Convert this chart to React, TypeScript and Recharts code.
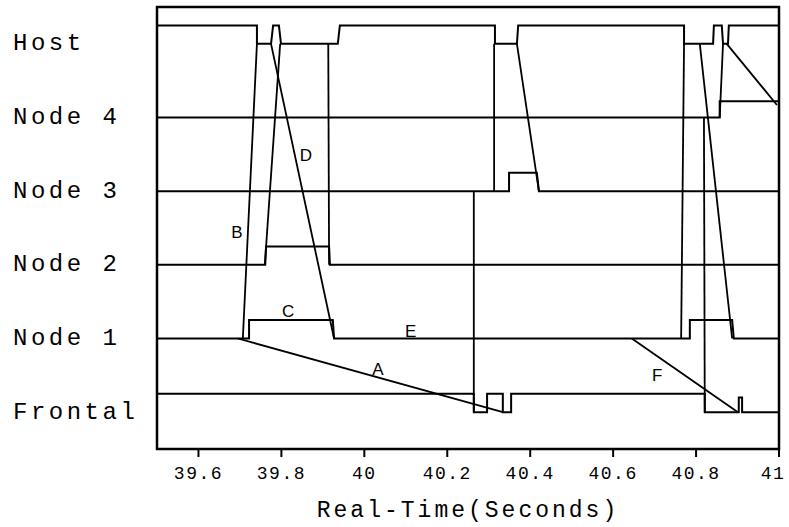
import { LineChart, Line, XAxis, YAxis, ReferenceArea, ReferenceDot } from 'recharts';

// row order bottom->top
const rowNames = ['Frontal', 'Node 1', 'Node 2', 'Node 3', 'Node 4', 'Host'];
const timeTicks = [39.6, 39.8, 40, 40.2, 40.4, 40.6, 40.8, 41];

// step traces: [time, level]; level = row index, +0.25 when active
const hostTrace = [
  [39.5, 5.25], [39.741, 5.25], [39.741, 5], [39.775, 5], [39.78, 5.25], [39.794, 5.25],
  [39.799, 5], [39.936, 5], [39.941, 5.25], [40.315, 5.25], [40.315, 5], [40.368, 5],
  [40.371, 5.25], [40.771, 5.25], [40.771, 5], [40.841, 5], [40.843, 5.25], [40.862, 5.25],
  [40.865, 5], [40.877, 5], [40.879, 5.25], [41, 5.25],
];
const node4Trace = [[39.5, 4], [40.857, 4], [40.857, 4.22], [41, 4.22]];
const node3Trace = [[39.5, 3], [40.349, 3], [40.349, 3.25], [40.416, 3.25], [40.421, 3], [41, 3]];
const node2Trace = [[39.5, 2], [39.761, 2], [39.763, 2.25], [39.915, 2.25], [39.917, 2], [41, 2]];
const node1Trace = [
  [39.5, 1], [39.722, 1], [39.722, 1.25], [39.924, 1.25], [39.927, 1], [40.785, 1],
  [40.785, 1.25], [40.887, 1.25], [40.891, 1], [41, 1],
];
const frontalTrace = [
  [39.5, 0.25], [40.264, 0.25], [40.264, 0], [40.296, 0], [40.296, 0.25], [40.334, 0.25],
  [40.334, 0], [40.354, 0], [40.354, 0.25], [40.821, 0.25], [40.821, 0], [40.903, 0],
  [40.903, 0.2], [40.911, 0.2], [40.911, 0], [41, 0],
];

// messages between rows: [t0, v0, t1, v1]
const messages = [
  [39.695, 1, 40.334, 0],     // A
  [39.707, 1, 39.741, 5],     // B
  [39.76, 2, 39.797, 5],
  [39.775, 5, 39.927, 1],     // D
  [39.915, 2, 39.913, 5],
  [40.313, 5, 40.313, 3],
  [40.264, 3, 40.264, 0],
  [40.368, 5, 40.421, 3],
  [40.645, 1, 40.901, 0],     // F
  [40.771, 5, 40.764, 1],
  [40.819, 4, 40.821, 0],
  [40.809, 5, 40.887, 1],
  [40.865, 5, 40.857, 4],
  [40.874, 5, 40.995, 4.17],
];

const letterNames = ['A', 'B', 'C', 'D', 'E', 'F'];
const letterTimes = [40.033, 39.693, 39.816, 39.859, 40.112, 40.706];
const letterLevels = [0.58, 2.44, 1.37, 3.49, 1.1, 0.51];

const toPts = (tr: number[][]) => tr.map(([t, v]) => ({ t, v }));

const traces = [hostTrace, node4Trace, node3Trace, node2Trace, node1Trace, frontalTrace];

const mono = '"Liberation Mono", "DejaVu Sans Mono", monospace';

const RowTick = (props: any) => {
  const { y, payload } = props;
  return (
    <text x={13} y={y} textAnchor="start" dominantBaseline="central" fontFamily={mono}
      fontSize={24} letterSpacing={3.5} fill="#000">
      {rowNames[payload.value]}
    </text>
  );
};

const TimeTick = (props: any) => {
  const { x, y, payload } = props;
  // last label sits against the page edge
  const shift = payload.value === 41 ? -6 : 0;
  return (
    <text x={x + shift} y={y} dy="0.9em" textAnchor="middle" fontFamily={mono}
      fontSize={18} letterSpacing={1.5} fill="#000">
      {String(payload.value)}
    </text>
  );
};

const App = () => {
  return (
    <div style={{ position: 'absolute', left: 0, top: 0, background: '#fff' }}>
      <LineChart width={789} height={527} margin={{ top: 7, right: 10, bottom: 0, left: 0 }}>
        <XAxis
          type="number"
          dataKey="t"
          domain={[39.5, 41]}
          ticks={timeTicks}
          allowDataOverflow
          axisLine={false}
          tickSize={8}
          tickMargin={6}
          tickLine={{ stroke: '#000', strokeWidth: 2 }}
          tick={<TimeTick />}
          height={78}
          label={{ value: 'Real-Time(Seconds)', position: 'insideBottom', offset: 10, fill: '#000', fontFamily: mono, fontSize: 23, letterSpacing: 3 }}
        />
        <YAxis
          type="number"
          dataKey="v"
          domain={[-0.5, 5.5]}
          ticks={[0, 1, 2, 3, 4, 5]}
          allowDataOverflow
          width={157}
          axisLine={false}
          tickLine={false}
          tick={<RowTick />}
        />
        <ReferenceArea x1={39.5} x2={41} y1={-0.5} y2={5.5} fill="none" stroke="#000" strokeWidth={2.5} fillOpacity={0} />
        {traces.map((tr, i) => (
          <Line key={'s' + i} data={toPts(tr)} dataKey="v" type="linear" stroke="#000"
            strokeWidth={2} dot={false} isAnimationActive={false} />
        ))}
        {messages.map((m, i) => (
          <Line key={'m' + i} data={toPts([[m[0], m[1]], [m[2], m[3]]])} dataKey="v" type="linear"
            stroke="#000" strokeWidth={1.8} dot={false} isAnimationActive={false} />
        ))}
        {letterNames.map((n, i) => (
          <ReferenceDot key={n} x={letterTimes[i]} y={letterLevels[i]} r={0} fill="none" stroke="none"
            label={{ value: n, position: 'center', fill: '#000', fontSize: 17, fontFamily: '"Liberation Sans", Arial, sans-serif' }} />
        ))}
      </LineChart>
    </div>
  );
};

export default App;
